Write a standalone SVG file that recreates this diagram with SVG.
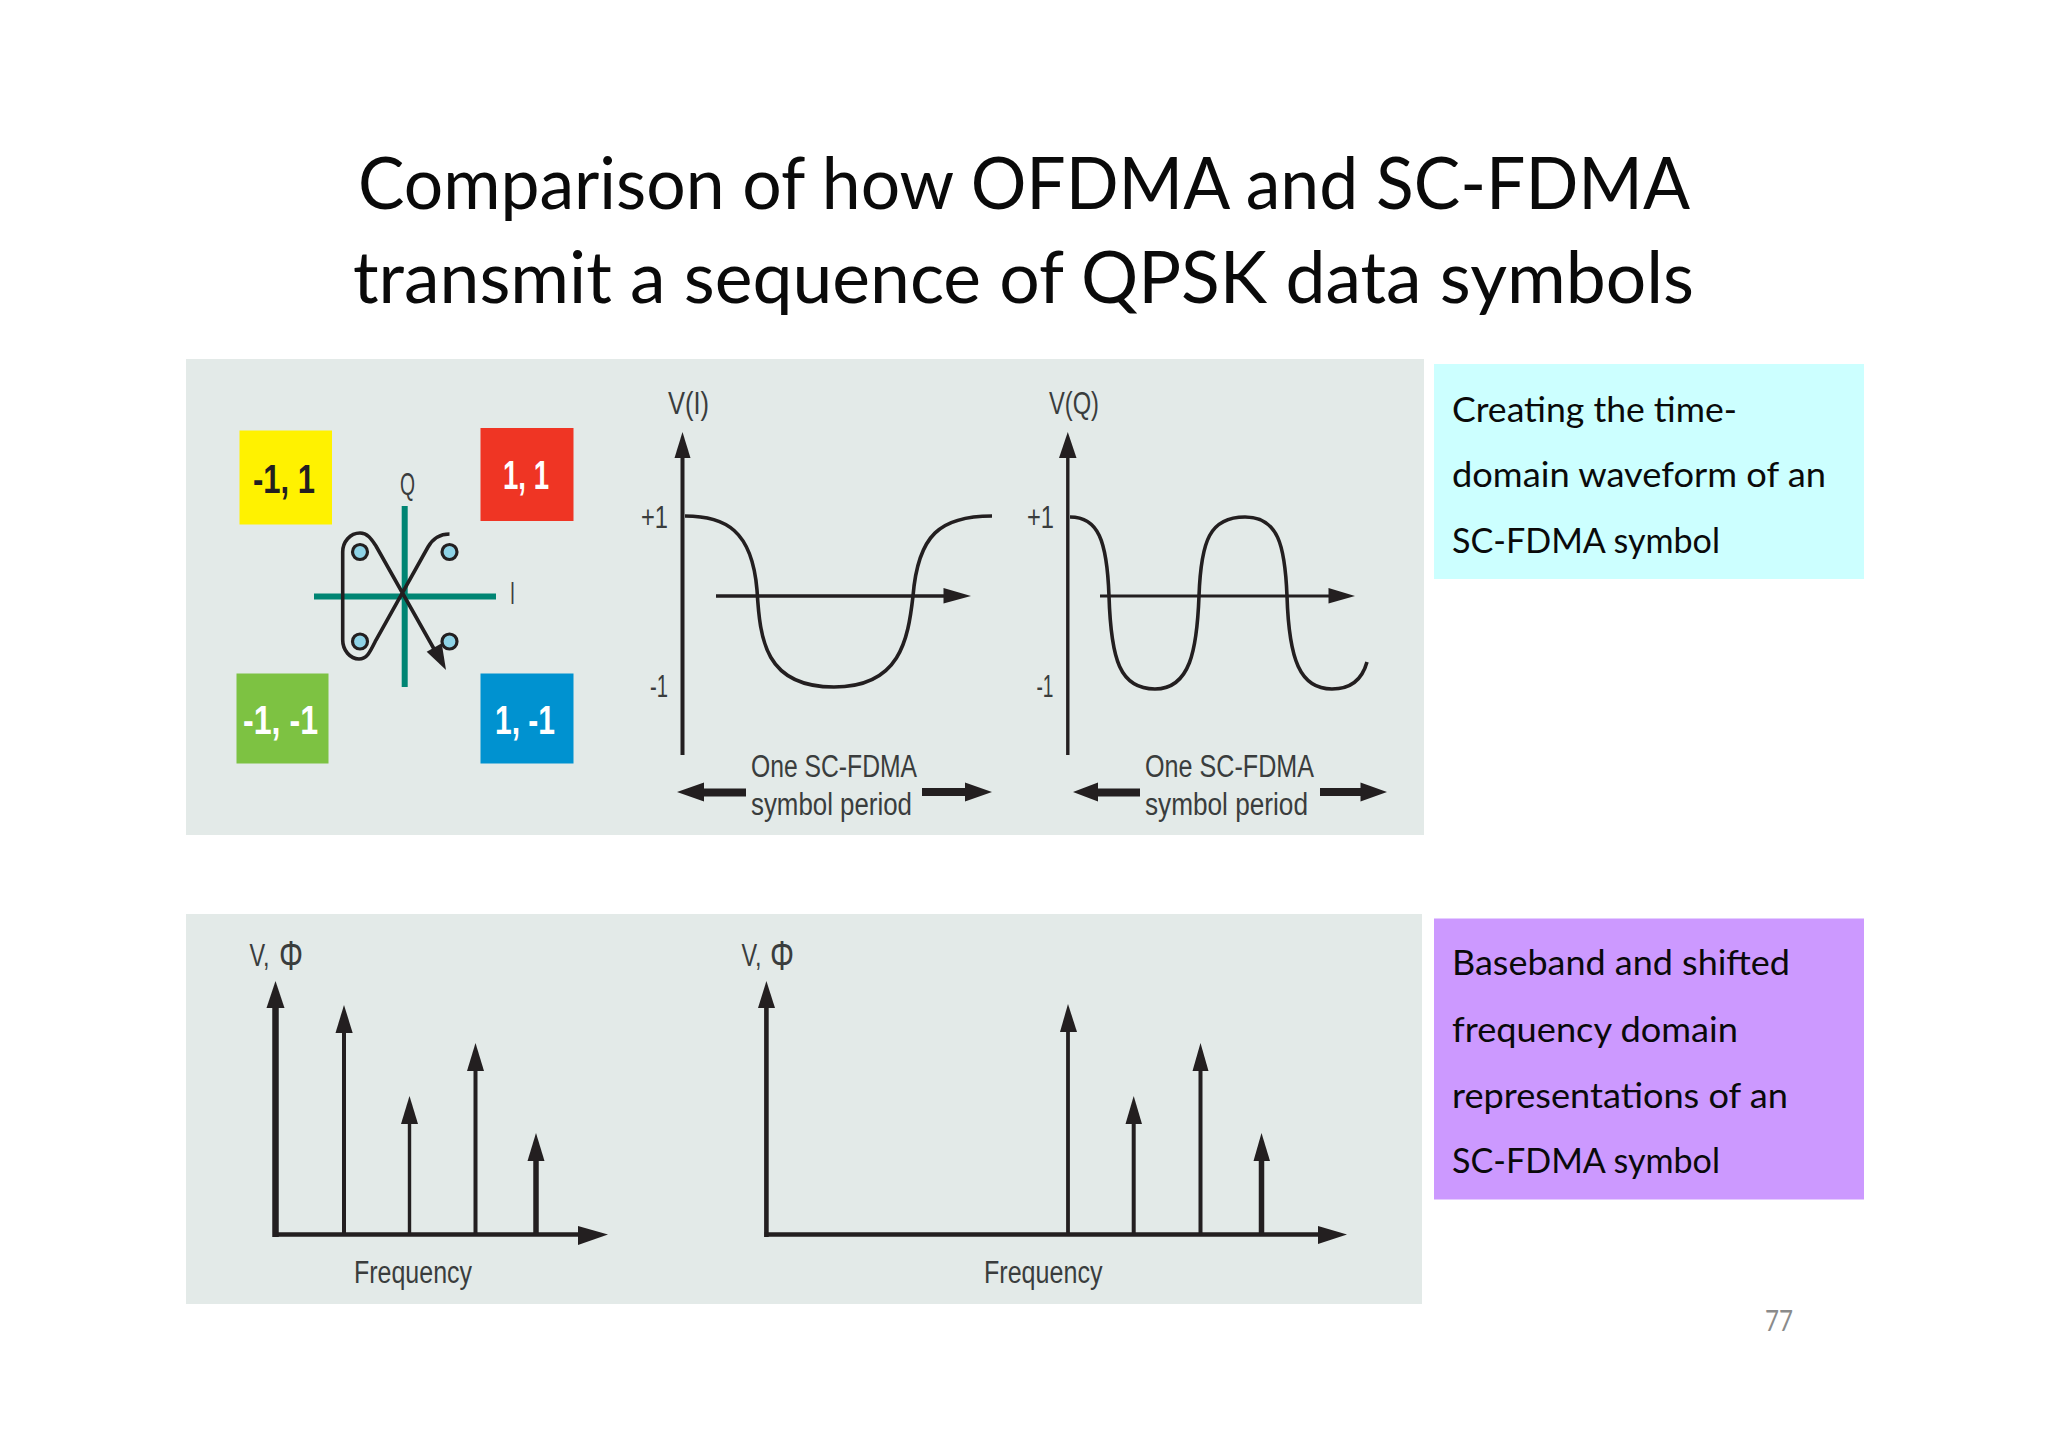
<svg xmlns="http://www.w3.org/2000/svg" width="2048" height="1447" viewBox="0 0 2048 1447">
<style>
.panel{fill:#e3eae8}
.lato{font-family:"Lato","Noto Sans",sans-serif;fill:#0a0a0a}
.t{font-size:72px}
.b{font-size:34px}
.c{font-family:"Liberation Sans",sans-serif;fill:#3a3d3d;font-size:31px}
.q{font-family:"Liberation Sans",sans-serif;font-weight:bold;font-size:40px}
.phi{font-size:42px;font-weight:normal}
.ln{stroke:#231f20;fill:none}
.ah{fill:#231f20}
.teal{stroke:#008573;stroke-width:6;fill:none}
.dot{fill:#8fd3e6;stroke:#231f20;stroke-width:3.2}
</style>
<rect width="2048" height="1447" fill="#ffffff"/>
<g id="title">
<text class="lato t" x="358" y="209" textLength="1332" lengthAdjust="spacingAndGlyphs">Comparison of how OFDMA and SC-FDMA</text>
<text class="lato t" x="353" y="303" textLength="1341" lengthAdjust="spacingAndGlyphs">transmit a sequence of QPSK data symbols</text>
</g>
<g id="panel-top"><rect class="panel" x="186" y="359" width="1238" height="476"/></g>
<g id="panel-bottom"><rect class="panel" x="186" y="914" width="1236" height="390"/></g>
<g id="note-time">
<rect x="1434" y="364" width="430" height="215" fill="#ccffff"/>
<text class="lato b" x="1452" y="422" textLength="285" lengthAdjust="spacingAndGlyphs">Creating the time-</text>
<text class="lato b" x="1452" y="487" textLength="374" lengthAdjust="spacingAndGlyphs">domain waveform of an</text>
<text class="lato b" x="1452" y="553" textLength="268" lengthAdjust="spacingAndGlyphs">SC-FDMA symbol</text>
</g>
<g id="note-frequency">
<rect x="1434" y="918.5" width="430" height="281" fill="#cc99ff"/>
<text class="lato b" x="1452" y="975" textLength="338" lengthAdjust="spacingAndGlyphs">Baseband and shifted</text>
<text class="lato b" x="1452" y="1042" textLength="286" lengthAdjust="spacingAndGlyphs">frequency domain</text>
<text class="lato b" x="1452" y="1108" textLength="336" lengthAdjust="spacingAndGlyphs">representations of an</text>
<text class="lato b" x="1452" y="1173" textLength="268" lengthAdjust="spacingAndGlyphs">SC-FDMA symbol</text>
</g>
<g id="page-number"><text x="1765" y="1331" font-family="Lato,sans-serif" font-size="28" fill="#8b8b8b" textLength="28" lengthAdjust="spacingAndGlyphs">77</text></g>

<g id="quad-yellow"><rect x="239.5" y="430.5" width="92.5" height="94" fill="#fff200"/>
<text class="q" x="253" y="493" fill="#231f20" textLength="62" lengthAdjust="spacingAndGlyphs">-1, 1</text></g>
<g id="quad-red"><rect x="480.5" y="428" width="93" height="93" fill="#ef3524"/>
<text class="q" x="503" y="489" fill="#ffffff" textLength="46" lengthAdjust="spacingAndGlyphs">1, 1</text></g>
<g id="quad-green"><rect x="236.5" y="673.5" width="92" height="90" fill="#7dc242"/>
<text class="q" x="243" y="734" fill="#ffffff" textLength="75" lengthAdjust="spacingAndGlyphs">-1, -1</text></g>
<g id="quad-blue"><rect x="480.5" y="673.5" width="93" height="90" fill="#0092d0"/>
<text class="q" x="495" y="734" fill="#ffffff" textLength="60" lengthAdjust="spacingAndGlyphs">1, -1</text></g>

<g id="constellation">
<line class="teal" x1="404.7" y1="506" x2="404.7" y2="687"/>
<line class="teal" x1="314" y1="596.5" x2="496" y2="596.5"/>
<text class="c" x="400" y="495" textLength="15" lengthAdjust="spacingAndGlyphs">Q</text>
<text class="c" x="510" y="604" textLength="5" lengthAdjust="spacingAndGlyphs">I</text>
<circle class="dot" cx="360" cy="552" r="7.5"/>
<circle class="dot" cx="449.5" cy="552" r="7.5"/>
<circle class="dot" cx="360" cy="641.5" r="7.5"/>
<circle class="dot" cx="449.5" cy="641.5" r="7.5"/>
</g>

<g id="connectors">
<path class="ln" stroke-width="3.6" d="M449.5,534 C438,534 432,540 428,547 L376,640 C370,652 367,659 359,659 C350,659 342.7,650 342.7,640 L342.7,552 C342.7,542 350,533 360,533 C368,533 372,540 376,546 L438,656"/>
<polygon class="ah" points="446,670 426.7,651.7 441.7,643.3"/>

<!-- V(I) chart -->
<line class="ln" stroke-width="4" x1="682.5" y1="455" x2="682.5" y2="755"/>
<polygon class="ah" points="682.5,432 674.5,458 690.5,458"/>
<path class="ln" stroke-width="3.6" d="M685,516 C725,516 752,530 757,590 C760,640 765,687 834,687 C900,687 908,640 913,596 C918,535 940,516 992,516"/>
<line class="ln" stroke-width="3.6" x1="716" y1="596" x2="946" y2="596"/>
<polygon class="ah" points="971,596 943.5,588 943.5,603.5"/>
<polygon class="ah" points="677,792 704,782.5 704,788.5 746,788.5 746,796.5 704,796.5 704,801.5"/>
<polygon class="ah" points="992,792 965,782.5 965,788 922,788 922,796 965,796 965,801.5"/>
<!-- V(Q) chart -->
<line class="ln" stroke-width="3.4" x1="1067.8" y1="455" x2="1067.8" y2="755"/>
<polygon class="ah" points="1067.8,432 1059,458 1076.5,458"/>
<path class="ln" stroke-width="3.6" d="M1070,517 C1098,517 1107,540 1109,596 C1111,660 1120,689 1155,689 C1190,689 1197,650 1199,596 C1201,540 1210,517 1245,517 C1278,517 1285,545 1287,596 C1289,660 1300,689 1332,689 C1350,689 1362,680 1367,662"/>
<line class="ln" stroke-width="2.8" x1="1100" y1="596" x2="1330" y2="596"/>
<polygon class="ah" points="1355,596 1328.5,588 1328.5,603.5"/>
<polygon class="ah" points="1073,792 1098,782.5 1098,788.5 1140,788.5 1140,796.5 1098,796.5 1098,801.5"/>
<polygon class="ah" points="1387,792 1360.5,782.5 1360.5,788 1320,788 1320,796 1360.5,796 1360.5,801.5"/>

<!-- left spectrum -->
<line class="ln" stroke-width="6.5" x1="275.5" y1="1006" x2="275.5" y2="1237"/>
<polygon class="ah" points="275.5,981 266.5,1008 284.5,1008"/>
<line class="ln" stroke-width="4.4" x1="273" y1="1234.5" x2="580" y2="1234.5"/>
<polygon class="ah" points="608,1234.5 578,1226 578,1245"/>
<line class="ln" stroke-width="4" x1="344" y1="1031" x2="344" y2="1234"/>
<polygon class="ah" points="344,1005 335.5,1033 352.7,1033"/>
<line class="ln" stroke-width="3.4" x1="409.5" y1="1122" x2="409.5" y2="1234"/>
<polygon class="ah" points="409.5,1096 401,1124 418,1124"/>
<line class="ln" stroke-width="4" x1="475.5" y1="1069" x2="475.5" y2="1234"/>
<polygon class="ah" points="475.5,1043 467,1071 484,1071"/>
<line class="ln" stroke-width="5.5" x1="536" y1="1159" x2="536" y2="1234"/>
<polygon class="ah" points="536,1133 527.5,1161 544.5,1161"/>

<!-- right spectrum -->
<line class="ln" stroke-width="4.6" x1="766.4" y1="1006" x2="766.4" y2="1237"/>
<polygon class="ah" points="766.4,981 758,1008 775,1008"/>
<line class="ln" stroke-width="4.4" x1="764.5" y1="1234.5" x2="1320" y2="1234.5"/>
<polygon class="ah" points="1347,1234.5 1318,1226 1318,1244"/>
<line class="ln" stroke-width="3.8" x1="1068" y1="1030" x2="1068" y2="1234"/>
<polygon class="ah" points="1068,1004 1060,1032 1077,1032"/>
<line class="ln" stroke-width="4" x1="1133.7" y1="1122" x2="1133.7" y2="1234"/>
<polygon class="ah" points="1133.7,1096 1125.5,1124 1142,1124"/>
<line class="ln" stroke-width="4" x1="1200.5" y1="1069" x2="1200.5" y2="1234"/>
<polygon class="ah" points="1200.5,1043 1192.5,1071 1208.5,1071"/>
<line class="ln" stroke-width="5.5" x1="1261.5" y1="1159" x2="1261.5" y2="1234"/>
<polygon class="ah" points="1261.5,1133 1253.5,1161 1270,1161"/>
</g>

<g id="labels-time">
<text class="c" x="668" y="414" textLength="41" lengthAdjust="spacingAndGlyphs">V(I)</text>
<text class="c" x="641" y="528" textLength="27" lengthAdjust="spacingAndGlyphs">+1</text>
<text class="c" x="650" y="697" textLength="18" lengthAdjust="spacingAndGlyphs">-1</text>
<text class="c" x="751" y="777" textLength="166" lengthAdjust="spacingAndGlyphs">One SC-FDMA</text>
<text class="c" x="751" y="815" textLength="161" lengthAdjust="spacingAndGlyphs">symbol period</text>
<text class="c" x="1049" y="414" textLength="50" lengthAdjust="spacingAndGlyphs">V(Q)</text>
<text class="c" x="1027" y="528" textLength="27" lengthAdjust="spacingAndGlyphs">+1</text>
<text class="c" x="1036.5" y="697" textLength="17" lengthAdjust="spacingAndGlyphs">-1</text>
<text class="c" x="1145" y="777" textLength="169" lengthAdjust="spacingAndGlyphs">One SC-FDMA</text>
<text class="c" x="1145" y="815" textLength="163" lengthAdjust="spacingAndGlyphs">symbol period</text>
</g>
<g id="labels-frequency">
<text class="c" x="249.5" y="966" textLength="20" lengthAdjust="spacingAndGlyphs">V,</text>
<text class="c phi" x="279" y="970" textLength="24" lengthAdjust="spacingAndGlyphs">Φ</text>
<text class="c" x="354" y="1283" textLength="118" lengthAdjust="spacingAndGlyphs">Frequency</text>
<text class="c" x="741.5" y="966" textLength="20" lengthAdjust="spacingAndGlyphs">V,</text>
<text class="c phi" x="770" y="970" textLength="24" lengthAdjust="spacingAndGlyphs">Φ</text>
<text class="c" x="984" y="1283" textLength="118.5" lengthAdjust="spacingAndGlyphs">Frequency</text>
</g>
</svg>
